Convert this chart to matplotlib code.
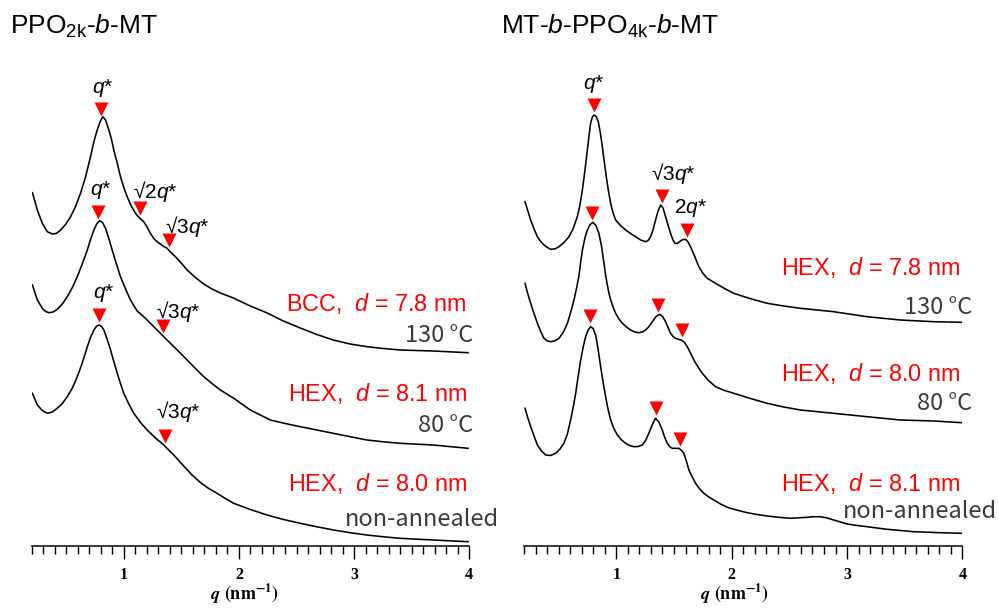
import numpy as np
import matplotlib
matplotlib.use("Agg")
import matplotlib.pyplot as plt

plt.rcParams['font.family'] = ['Liberation Sans', 'DejaVu Sans']
plt.rcParams['mathtext.fontset'] = 'custom'
plt.rcParams['mathtext.rm'] = 'Liberation Sans'
plt.rcParams['mathtext.it'] = 'Liberation Sans:italic'
plt.rcParams['mathtext.bf'] = 'Liberation Sans:bold'

# ---------------- SAXS profiles, PPO2k-b-MT (offset intensity, a.u.) ----------------
q_di_130 = [0.206, 0.249, 0.292, 0.336, 0.379, 0.416, 0.451, 0.494, 0.538, 0.581, 0.624,
            0.668, 0.711, 0.740, 0.769, 0.798, 0.818, 0.841, 0.870, 0.891, 0.913, 0.943,
            0.971, 1.000, 1.029, 1.067, 1.101, 1.136, 1.173, 1.202, 1.231, 1.260, 1.290,
            1.333, 1.376, 1.413, 1.448, 1.491, 1.550, 1.622, 1.694, 1.766, 1.839, 1.951,
            2.099, 2.246, 2.385, 2.533, 2.677, 2.819, 2.966, 3.113, 3.255, 3.399, 3.686, 3.990]
I_di_130 = [353.3, 336.0, 322.7, 314.3, 312.0, 312.7, 316.0, 321.5, 329.3, 339.5, 352.7,
            369.3, 389.3, 404.3, 416.0, 425.3, 429.3, 426.0, 416.0, 407.7, 396.0, 383.0,
            369.3, 358.5, 349.3, 339.5, 332.7, 328.0, 324.3, 319.0, 312.7, 307.5, 304.3,
            300.5, 297.7, 293.0, 289.3, 284.0, 276.0, 268.5, 262.0, 257.0, 253.0, 248.0,
            240.0, 233.0, 225.0, 218.0, 211.5, 206.0, 202.0, 199.3, 197.5, 196.0, 195.0, 193.3]

q_di_80 = [0.206, 0.249, 0.292, 0.321, 0.350, 0.386, 0.422, 0.466, 0.509, 0.553, 0.596,
           0.639, 0.683, 0.711, 0.740, 0.765, 0.789, 0.815, 0.841, 0.870, 0.899, 0.936,
           0.971, 1.015, 1.058, 1.116, 1.173, 1.246, 1.318, 1.362, 1.405, 1.477, 1.550,
           1.622, 1.694, 1.766, 1.839, 1.951, 2.099, 2.272, 2.402, 2.533, 2.677, 2.819,
           2.966, 3.111, 3.255, 3.399, 3.686, 3.990]
I_di_80 = [261.0, 246.0, 237.7, 234.5, 233.3, 234.0, 236.7, 242.0, 249.3, 258.5, 269.3,
           282.0, 296.0, 306.5, 316.0, 322.0, 325.3, 323.5, 317.7, 307.5, 296.0, 282.0,
           269.3, 257.0, 246.0, 235.0, 229.3, 221.0, 212.7, 207.5, 202.7, 194.5, 186.0,
           177.5, 169.3, 162.5, 156.0, 148.0, 136.0, 126.0, 122.5, 119.3, 116.0, 112.7,
           109.3, 106.0, 104.2, 102.7, 101.0, 97.7]

q_di_na = [0.206, 0.249, 0.292, 0.336, 0.379, 0.422, 0.466, 0.509, 0.553, 0.596, 0.639,
           0.683, 0.711, 0.740, 0.763, 0.783, 0.807, 0.827, 0.856, 0.885, 0.913, 0.943,
           0.971, 1.000, 1.043, 1.087, 1.145, 1.203, 1.275, 1.347, 1.434, 1.520, 1.593,
           1.665, 1.737, 1.810, 1.882, 1.954, 2.099, 2.243, 2.388, 2.533, 2.677, 2.822,
           2.966, 3.111, 3.255, 3.399, 3.688, 3.992]
I_di_na = [152.7, 141.0, 135.5, 132.7, 134.0, 137.7, 142.5, 149.3, 158.0, 169.3, 183.0,
           199.3, 208.5, 216.0, 219.8, 221.0, 219.5, 216.0, 206.5, 196.0, 184.5, 172.7,
           162.5, 152.7, 142.0, 132.7, 123.5, 116.0, 108.0, 101.0, 91.0, 80.0, 71.0,
           63.5, 57.5, 52.7, 47.5, 42.7, 36.5, 31.0, 26.5, 22.7, 19.2, 16.0,
           13.3, 11.0, 9.2, 7.7, 6.0, 4.3]

# ---------------- SAXS profiles, MT-b-PPO4k-b-MT ----------------
q_tri_130 = [0.209, 0.232, 0.258, 0.287, 0.316, 0.345, 0.373, 0.403, 0.431, 0.466, 0.503,
             0.546, 0.590, 0.626, 0.662, 0.685, 0.706, 0.728, 0.749, 0.763, 0.777, 0.792,
             0.806, 0.825, 0.844, 0.861, 0.879, 0.896, 0.913, 0.932, 0.951, 0.972, 0.994,
             1.038, 1.081, 1.124, 1.167, 1.211, 1.254, 1.276, 1.297, 1.319, 1.340, 1.362,
             1.384, 1.405, 1.427, 1.449, 1.470, 1.489, 1.507, 1.528, 1.548, 1.574, 1.600,
             1.622, 1.643, 1.678, 1.715, 1.751, 1.788, 1.860, 1.938, 2.018, 2.163, 2.307,
             2.451, 2.596, 2.884, 3.173, 3.461, 3.750, 3.996]
I_tri_130 = [344.3, 335.5, 326.0, 317.0, 309.3, 304.5, 301.0, 298.5, 296.7, 297.0, 299.3,
             303.5, 309.3, 317.5, 329.3, 341.0, 356.0, 375.5, 396.0, 410.0, 422.7, 428.8,
             431.0, 429.5, 424.3, 413.5, 399.3, 384.0, 369.3, 355.0, 342.7, 333.0, 326.0,
             320.3, 316.0, 312.5, 309.3, 306.0, 304.3, 305.5, 309.3, 316.5, 326.0, 335.0,
             341.0, 338.0, 329.3, 320.5, 312.7, 306.5, 302.7, 302.5, 304.3, 306.3, 306.7,
             304.0, 299.3, 290.0, 279.3, 272.5, 267.7, 262.7, 257.5, 252.7, 247.3, 242.7,
             240.0, 237.7, 234.3, 229.3, 226.0, 224.3, 223.7]

q_tri_80 = [0.209, 0.232, 0.258, 0.287, 0.316, 0.345, 0.373, 0.403, 0.431, 0.466, 0.503,
            0.540, 0.576, 0.604, 0.633, 0.656, 0.676, 0.691, 0.706, 0.728, 0.749, 0.773,
            0.797, 0.823, 0.849, 0.873, 0.893, 0.907, 0.922, 0.936, 0.951, 0.972, 0.994,
            1.023, 1.052, 1.087, 1.124, 1.159, 1.196, 1.225, 1.254, 1.283, 1.312, 1.345,
            1.375, 1.401, 1.427, 1.449, 1.470, 1.492, 1.513, 1.539, 1.565, 1.591, 1.615,
            1.643, 1.672, 1.708, 1.745, 1.799, 1.860, 1.938, 2.018, 2.163, 2.307, 2.451,
            2.596, 2.884, 3.173, 3.461, 3.750, 3.996]
I_tri_80 = [262.7, 252.5, 242.7, 232.5, 222.7, 214.5, 207.7, 205.0, 204.3, 205.0, 207.7,
            213.5, 222.7, 233.5, 246.0, 258.0, 270.0, 284.0, 296.0, 308.0, 316.0, 321.5,
            323.7, 320.5, 312.7, 299.0, 282.7, 271.0, 261.0, 253.0, 246.0, 239.0, 232.7,
            227.0, 222.7, 219.0, 216.0, 214.0, 213.3, 214.0, 216.0, 219.5, 224.3, 229.5,
            231.7, 229.5, 224.3, 218.3, 212.7, 209.5, 207.7, 206.7, 206.0, 203.5, 199.3,
            193.0, 186.0, 179.0, 172.7, 165.5, 159.3, 155.5, 152.7, 147.5, 142.7, 139.0,
            136.0, 132.7, 129.3, 126.0, 125.0, 123.3]

q_tri_na = [0.209, 0.232, 0.258, 0.287, 0.316, 0.352, 0.388, 0.431, 0.474, 0.509, 0.546,
            0.576, 0.604, 0.626, 0.648, 0.669, 0.691, 0.713, 0.734, 0.756, 0.777, 0.799,
            0.821, 0.842, 0.864, 0.886, 0.907, 0.929, 0.951, 0.979, 1.009, 1.044, 1.081,
            1.115, 1.152, 1.188, 1.225, 1.254, 1.282, 1.312, 1.340, 1.369, 1.398, 1.420,
            1.442, 1.463, 1.485, 1.513, 1.542, 1.565, 1.585, 1.607, 1.629, 1.658, 1.687,
            1.721, 1.758, 1.799, 1.845, 1.903, 1.961, 2.048, 2.134, 2.221, 2.307, 2.405,
            2.509, 2.578, 2.654, 2.708, 2.769, 2.827, 2.884, 2.942, 3.000, 3.087, 3.173,
            3.346, 3.577, 3.808, 3.996]
I_tri_na = [137.7, 128.5, 119.3, 110.0, 101.0, 95.0, 91.0, 90.5, 92.7, 96.5, 102.7,
            112.0, 126.0, 138.5, 152.7, 169.5, 186.0, 199.0, 209.3, 216.0, 219.3, 217.5,
            211.0, 197.0, 179.3, 163.5, 149.3, 136.5, 126.0, 117.5, 111.0, 106.2, 102.7,
            100.5, 99.3, 99.5, 101.0, 105.5, 112.7, 121.5, 127.7, 124.0, 116.0, 108.5,
            102.7, 99.2, 97.7, 97.7, 97.7, 95.5, 92.7, 85.0, 76.0, 69.0, 62.7,
            57.2, 52.7, 49.2, 46.0, 42.0, 38.7, 35.8, 33.3, 31.5, 30.0, 28.7,
            27.7, 28.2, 28.7, 29.3, 29.3, 28.0, 26.0, 24.0, 22.0, 20.5, 19.3,
            16.7, 14.3, 13.3, 12.7]

# ---------------- structure assignment ----------------
conditions = ['130 °C', '80 °C', 'non-annealed']
di_phase = ['BCC', 'HEX', 'HEX']
di_d = [7.8, 8.1, 8.0]            # nm
di_ratios = [[1, np.sqrt(2), np.sqrt(3)], [1, np.sqrt(3)], [1, np.sqrt(3)]]
tri_phase = ['HEX', 'HEX', 'HEX']
tri_d = [7.8, 8.0, 8.1]           # nm
tri_ratios = [[1, np.sqrt(3), 2], [1, np.sqrt(3), 2], [1, np.sqrt(3), 2]]
x_ticks = [1, 2, 3, 4]

W, H = 999, 613
fig = plt.figure(figsize=(W / 100, H / 100), dpi=100)

AX_BOTTOM = 546   # px from top
ax_l = fig.add_axes([31.7 / W, (H - AX_BOTTOM) / H, 437.5 / W, AX_BOTTOM / H])
ax_r = fig.add_axes([524.0 / W, (H - AX_BOTTOM) / H, 438.5 / W, AX_BOTTOM / H])

serif = 'Liberation Serif'
jp = ['Noto Sans CJK JP', 'DejaVu Sans']
grey = '#3a3a3a'

for ax, lab_x in ((ax_l, 0.4855), (ax_r, 0.481)):
    ax.set_xlim(0.2, 4.0)
    ax.set_ylim(0, AX_BOTTOM)
    for s in ('top', 'right', 'left'):
        ax.spines[s].set_visible(False)
    ax.spines['bottom'].set_linewidth(1.1)
    ax.set_yticks([])
    ax.set_xticks(x_ticks)
    ax.set_xticks(np.arange(0.2, 4.001, 0.1), minor=True)
    ax.tick_params(axis='x', which='major', direction='out', length=9, width=1.0, pad=6)
    ax.tick_params(axis='x', which='minor', direction='out', length=5.5, width=1.0)
    for t in ax.get_xticklabels():
        t.set_fontfamily(serif)
        t.set_fontweight('bold')
        t.set_fontsize(11.5)
    ax.set_xlabel(r'$\mathbfit{q}$ $\mathbf{(nm^{-1})}$', fontsize=13, math_fontfamily='stix',
                  va='center')
    ax.xaxis.set_label_coords(lab_x, -0.088)
    ax.patch.set_visible(False)

CURVE_KW = dict(color='black', lw=1.15, solid_joinstyle='round')
MARK_KW = dict(ls='none', marker='v', ms=9.5, color='#ff0000', mec='none', zorder=5)


def draw_set(ax, curves, ds, ratios):
    for (q, I), d, rr in zip(curves, ds, ratios):
        ax.plot(q, I, **CURVE_KW)
        qs = (2 * np.pi / d) * np.asarray(rr)
        ys = np.interp(qs, q, I) + 10.5
        ax.plot(qs, ys, **MARK_KW)


draw_set(ax_l, [(q_di_130, I_di_130), (q_di_80, I_di_80), (q_di_na, I_di_na)], di_d, di_ratios)
draw_set(ax_r, [(q_tri_130, I_tri_130), (q_tri_80, I_tri_80), (q_tri_na, I_tri_na)], tri_d, tri_ratios)

PK = dict(fontsize=15, ha='center', va='center')
# reflection labels, PPO2k-b-MT
ax_l.text(0.821, 458, '$q$*', **PK)
ax_l.text(0.798, 356, '$q$*', **PK)
ax_l.text(1.271, 355, '√2$q$*', **PK)
ax_l.text(1.552, 319.5, '√3$q$*', **PK)
ax_l.text(1.477, 235, '√3$q$*', **PK)
ax_l.text(0.827, 253, '$q$*', **PK)
ax_l.text(1.474, 135, '√3$q$*', **PK)
# reflection labels, MT-b-PPO4k-b-MT
ax_r.text(0.801, 462, '$q$*', **PK)
ax_r.text(1.492, 372, '√3$q$*', **PK)
ax_r.text(1.641, 338, '2$q$*', **PK)

RED = dict(fontsize=16.8, ha='right', va='center', color='#ff0000')
GRY = dict(fontsize=17, ha='right', va='center', color=grey, family=jp)

for ph, d, y in zip(di_phase, di_d, [243, 153, 62]):
    ax_l.text(3.978, y, f'{ph},  $d$ = {d:.1f} nm', **RED)
for ph, d, y in zip(tri_phase, tri_d, [278, 173, 63]):
    ax_r.text(3.981, y, f'{ph},  $d$ = {d:.1f} nm', **RED)

for c, x, y in zip(conditions, [4.036, 4.036, 4.263], [210, 120, 27]):
    ax_l.text(x, y, c, **GRY)
for c, x, y in zip(conditions, [4.082, 4.082, 4.299], [239, 143, 35]):
    ax_r.text(x, y, c, **GRY)

fig.text(10 / W, 1 - 34.3 / H, 'PPO$_{\\mathrm{2k}}$-$b$-MT', fontsize=19, va='baseline', ha='left')
fig.text(501 / W, 1 - 34.3 / H, 'MT-$b$-PPO$_{\\mathrm{4k}}$-$b$-MT', fontsize=19, va='baseline', ha='left')

fig.savefig('out.png', dpi=100)
